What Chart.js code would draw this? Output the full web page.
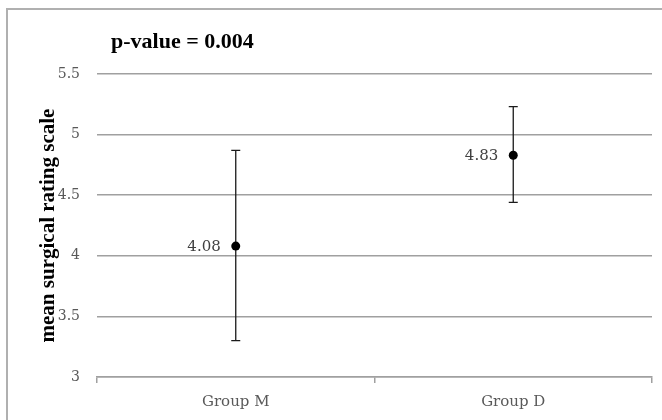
<!DOCTYPE html>
<html>
<head>
<meta charset="utf-8">
<script src="https://cdn.jsdelivr.net/npm/chart.js@4.4.0/dist/chart.umd.min.js"></script>
<style>
  html, body { margin: 0; padding: 0; width: 662px; height: 420px; overflow: hidden; background: #fff; }
  #frame { position: absolute; left: 6px; top: 8px; width: 700px; height: 500px; border: 2px solid #b0b0b0; }
  #wrap { position: absolute; left: 0; top: 0; width: 662px; height: 420px; }
</style>
</head>
<body>
<div id="frame"></div>
<div id="wrap"><canvas id="chart" width="662" height="420"></canvas></div>
<script>
const groups = ['Group M', 'Group D'];
const meanScores = [4.08, 4.83];
const upperBars = [4.87, 5.23];
const lowerBars = [3.30, 4.44];
const pValueText = 'p-value = 0.004';

// error bars + value labels
const errorBarPlugin = {
  id: 'errorBars',
  beforeDatasetsDraw(chart) {
    const ctx = chart.ctx;
    const y = chart.scales.y;
    const meta = chart.getDatasetMeta(0);
    ctx.save();
    ctx.strokeStyle = '#1a1a1a';
    ctx.lineWidth = 1.3;
    meta.data.forEach(function (pt, i) {
      const top = y.getPixelForValue(upperBars[i]);
      const bot = y.getPixelForValue(lowerBars[i]);
      ctx.beginPath();
      ctx.moveTo(pt.x, top);
      ctx.lineTo(pt.x, bot);
      ctx.moveTo(pt.x - 4.5, top);
      ctx.lineTo(pt.x + 4.5, top);
      ctx.moveTo(pt.x - 4.5, bot);
      ctx.lineTo(pt.x + 4.5, bot);
      ctx.stroke();
    });
    ctx.restore();
  },
  afterDatasetsDraw(chart) {
    const ctx = chart.ctx;
    const meta = chart.getDatasetMeta(0);
    ctx.save();
    ctx.font = '15px "DejaVu Serif"';
    ctx.fillStyle = '#404040';
    ctx.textAlign = 'right';
    ctx.textBaseline = 'middle';
    meta.data.forEach(function (pt, i) {
      ctx.fillText(meanScores[i].toFixed(2), pt.x - 15, pt.y + 1);
    });
    // p-value text above the plot
    ctx.font = 'bold 22px "Liberation Serif"';
    ctx.fillStyle = '#000';
    ctx.textAlign = 'left';
    ctx.textBaseline = 'alphabetic';
    ctx.fillText(pValueText, chart.chartArea.left + 14, 48);
    ctx.restore();
  }
};

new Chart(
  document.getElementById('chart'),
  {
    type: 'line',
    plugins: [errorBarPlugin],
    options: {
      responsive: false,
      animation: false,
      layout: {
        padding: { top: 74, right: 10, left: 0, bottom: 0 }
      },
      plugins: {
        legend: { display: false },
        tooltip: { enabled: false }
      },
      scales: {
        x: {
          offset: true,
          afterFit: function (scale) { scale.height = 43; },
          grid: {
            offset: true,
            drawOnChartArea: false,
            drawTicks: true,
            tickLength: 6,
            color: '#a0a0a0',
            lineWidth: 1.5
          },
          border: { display: true, color: '#a0a0a0', width: 1.5 },
          ticks: {
            padding: 10,
            color: '#595959',
            font: { family: 'DejaVu Serif', size: 15 }
          }
        },
        y: {
          min: 3,
          max: 5.5,
          afterFit: function (scale) { scale.width = 97; },
          grid: {
            drawTicks: false,
            color: '#a0a0a0',
            lineWidth: 1.5
          },
          border: { display: false },
          ticks: {
            stepSize: 0.5,
            padding: 17,
            color: '#595959',
            font: { family: 'DejaVu Serif', size: 14 },
            callback: function (v) { return String(v); }
          },
          title: {
            display: true,
            text: 'mean surgical rating scale',
            color: '#000',
            padding: { top: 36, bottom: 0 },
            font: { family: 'Liberation Serif', size: 21, weight: 'bold' }
          }
        }
      }
    },
    data: {
      labels: groups,
      datasets: [
        {
          label: 'Mean',
          data: meanScores,
          showLine: false,
          pointRadius: 4.5,
          pointBackgroundColor: '#000',
          pointBorderColor: '#000',
          pointBorderWidth: 0
        }
      ]
    }
  }
);
</script>
</body>
</html>
